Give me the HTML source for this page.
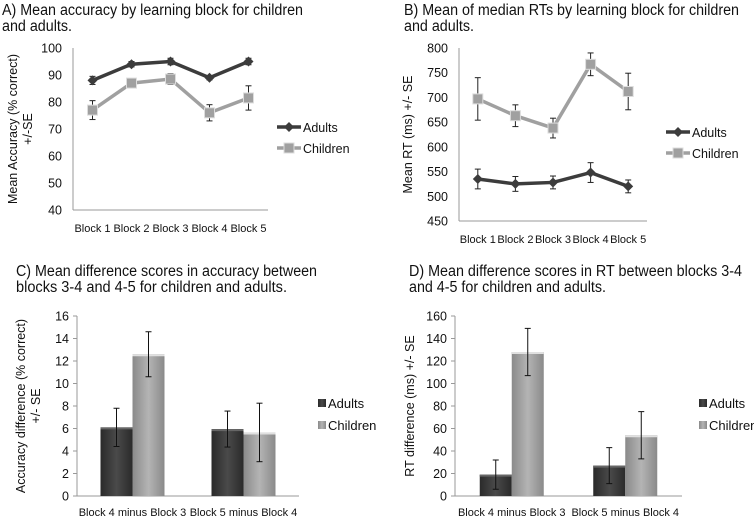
<!DOCTYPE html>
<html><head><meta charset="utf-8"><style>
html,body{margin:0;padding:0;background:#fff;}
svg{display:block;font-family:"Liberation Sans",Arial,sans-serif;}
</style></head><body>
<svg id="s" width="754" height="518" viewBox="0 0 754 518" xmlns="http://www.w3.org/2000/svg">
<defs>
<linearGradient id="gA" x1="0" x2="1"><stop offset="0" stop-color="#2a2a2a"/><stop offset="0.5" stop-color="#4a4a4a"/><stop offset="1" stop-color="#2a2a2a"/></linearGradient>
<linearGradient id="gC" x1="0" x2="1"><stop offset="0" stop-color="#8a8a8a"/><stop offset="0.5" stop-color="#b4b4b4"/><stop offset="1" stop-color="#8a8a8a"/></linearGradient>
</defs>
<g font-size="15.5" fill="#111">
<text x="2" y="15" textLength="301" lengthAdjust="spacingAndGlyphs">A) Mean accuracy by learning block for children</text><text x="2" y="31" textLength="70" lengthAdjust="spacingAndGlyphs">and adults.</text></g>
<g font-size="15.5" fill="#111">
<text x="404" y="15" textLength="335" lengthAdjust="spacingAndGlyphs">B) Mean of median RTs by learning block for children</text><text x="404" y="31" textLength="70" lengthAdjust="spacingAndGlyphs">and adults.</text></g>
<g font-size="15.5" fill="#111">
<text x="16" y="276" textLength="301" lengthAdjust="spacingAndGlyphs">C) Mean difference scores in accuracy between</text><text x="16" y="292" textLength="271" lengthAdjust="spacingAndGlyphs">blocks 3-4 and 4-5 for children and adults.</text></g>
<g font-size="15.5" fill="#111">
<text x="409" y="276" textLength="333" lengthAdjust="spacingAndGlyphs">D) Mean difference scores in RT between blocks 3-4</text><text x="409" y="292" textLength="197" lengthAdjust="spacingAndGlyphs">and 4-5 for children and adults.</text></g>
</svg>
<script>
const ns="http://www.w3.org/2000/svg";
const svg=document.getElementById('s');
function mk(tag,attrs,parent){const e=document.createElementNS(ns,tag);for(const k in attrs)e.setAttribute(k,attrs[k]);(parent||svg).appendChild(e);return e;}

// ---- Data ----
const blockLabels=["Block 1","Block 2","Block 3","Block 4","Block 5"];
const accAdults=[88,94,95,89,95];
const accAdultsErr=[1.5,1,1.2,0.8,1.2];
const accChildren=[77,87,88.5,76,81.5];
const accChildrenErr=[3.5,1.5,2,3,4.5];
const accTicks=[40,50,60,70,80,90,100];
const rtAdults=[535,525,528,548,520];
const rtAdultsErr=[20,15,13,20,13];
const rtChildren=[697,663,638,767,712];
const rtChildrenErr=[43,22,20,23,37];
const rtTicks=[450,500,550,600,650,700,750,800];
const diffLabels=["Block 4 minus Block 3","Block 5 minus Block 4"];
const accDiffAdults=[6.1,5.95];
const accDiffAdultsErr=[1.7,1.6];
const accDiffChildren=[12.6,5.65];
const accDiffChildrenErr=[2,2.6];
const accDiffTicks=[0,2,4,6,8,10,12,14,16];
const rtDiffAdults=[19,27];
const rtDiffAdultsErr=[13,16];
const rtDiffChildren=[128,54];
const rtDiffChildrenErr=[21,21];
const rtDiffTicks=[0,20,40,60,80,100,120,140,160];

function axes(g,x0,x1,yTop,yBot,ticks,yl,ytitle,tx,tickMarks){
  const mn=ticks[0],mx=ticks[ticks.length-1];
  const y=v=>yBot-(v-mn)/(mx-mn)*(yBot-yTop);
  const ax=mk('g',{},g);
  
  
  mk('line',{x1:x0,y1:yTop,x2:x0,y2:yBot,stroke:'#999','stroke-width':1},ax);
  mk('line',{x1:x0,y1:yBot,x2:x1,y2:yBot,stroke:'#999','stroke-width':1},ax);
  ticks.forEach(t=>{
    const tt=mk('text',{x:x0-(tickMarks?8:11),y:y(t)+4.5,'text-anchor':'end','font-size':12.5,fill:'#111'},ax);
    tt.textContent=t;
    
    
    if(tickMarks) mk('line',{x1:x0-4,y1:y(t),x2:x0,y2:y(t),stroke:'#999'},ax);
  });
  const ti=mk('text',{'text-anchor':'middle','font-size':12.5,fill:'#111',transform:`translate(${tx},${(yTop+yBot)/2}) rotate(-90)`},ax);
  
  
  yl.forEach((l,i)=>{const sp=mk('tspan',{x:0,dy:i?15:0},ti);sp.textContent=l;});
  return y;
}

function lineChart(name,x0,x1,yTop,yBot,ticks,ytitle,tx,A,Ae,C,Ce,legX,legY){
  const g=mk('g',{});
  
  
  const y=axes(g,x0,x1,yTop,yBot,ticks,ytitle,null,tx,false);
  const bw=(x1-x0)/blockLabels.length;
  const x=i=>x0+bw*(i+0.5);
  blockLabels.forEach((l,i)=>{
    const t=mk('text',{x:x(i),y:yBot+22,'text-anchor':'middle','font-size':11,fill:'#111'},g);
    t.textContent=l;
    
    
  });
  [[C,Ce,'#a0a0a0','children'],[A,Ae,'#3c3c3c','adults']].forEach(([v,e,col,nm])=>{
    const sg=mk('g',{},g);
    
    
    v.forEach((d,i)=>{
      mk('line',{x1:x(i),y1:y(d+e[i]),x2:x(i),y2:y(d-e[i]),stroke:'#222'},sg);
      mk('line',{x1:x(i)-3,y1:y(d+e[i]),x2:x(i)+3,y2:y(d+e[i]),stroke:'#222'},sg);
      mk('line',{x1:x(i)-3,y1:y(d-e[i]),x2:x(i)+3,y2:y(d-e[i]),stroke:'#222'},sg);
    });
    mk('polyline',{points:v.map((d,i)=>x(i)+','+y(d)).join(' '),fill:'none',stroke:col,'stroke-width':3.5},sg);
    v.forEach((d,i)=>{
      let m;
      if(nm==='adults') m=mk('polygon',{points:`${x(i)},${y(d)-5} ${x(i)+5},${y(d)} ${x(i)},${y(d)+5} ${x(i)-5},${y(d)}`,fill:col},sg);
      else m=mk('rect',{x:x(i)-5,y:y(d)-5,width:10,height:10,fill:col,stroke:'#ddd','stroke-width':1},sg);
      
      
    });
  });
  [['Adults','#3c3c3c',0,'a'],['Children','#a0a0a0',21,'c']].forEach(([lab,col,dy,k])=>{
    const lg=mk('g',{},g);
    
    
    const ly=legY+dy;
    mk('line',{x1:legX,y1:ly,x2:legX+24,y2:ly,stroke:col,'stroke-width':3.5},lg);
    if(k==='a') mk('polygon',{points:`${legX+12},${ly-5} ${legX+17},${ly} ${legX+12},${ly+5} ${legX+7},${ly}`,fill:col},lg);
    else mk('rect',{x:legX+7,y:ly-5,width:10,height:10,fill:col,stroke:'#ddd'},lg);
    const t=mk('text',{x:legX+26,y:ly+5,'font-size':12.5,fill:'#111'},lg);
    t.textContent=lab;
  });
}

function barChart(name,x0,x1,yTop,yBot,ticks,ytitle,tx,A,Ae,C,Ce,legX,legY){
  const g=mk('g',{});
  
  
  const y=axes(g,x0,x1,yTop,yBot,ticks,ytitle,null,tx,true);
  const bw=(x1-x0)/diffLabels.length;
  const cx=i=>x0+bw*(i+0.5);
  const barW=32;
  diffLabels.forEach((l,i)=>{
    const t=mk('text',{x:cx(i),y:yBot+20,'text-anchor':'middle','font-size':11,fill:'#111'},g);
    t.textContent=l;
    
    
  });
  [[A,Ae,'url(#gA)','adults',-1],[C,Ce,'url(#gC)','children',0]].forEach(([v,e,fill,nm,off])=>{
    v.forEach((d,i)=>{
      const bx=cx(i)+off*barW;
      const r=mk('rect',{x:bx,y:y(d),width:barW,height:yBot-y(d),fill:fill},g);
      
      
      mk('line',{x1:bx,y1:y(d)+1,x2:bx+barW,y2:y(d)+1,stroke:nm==='adults'?'#666':'#e0e0e0','stroke-width':2},g);
      const m=bx+barW/2;
      mk('line',{x1:m,y1:y(d+e[i]),x2:m,y2:y(d-e[i]),stroke:'#111'},g);
      mk('line',{x1:m-3,y1:y(d+e[i]),x2:m+3,y2:y(d+e[i]),stroke:'#111'},g);
      mk('line',{x1:m-3,y1:y(d-e[i]),x2:m+3,y2:y(d-e[i]),stroke:'#111'},g);
    });
  });
  [['Adults','url(#gA)',0],['Children','url(#gC)',22]].forEach(([lab,f,dy])=>{
    const lg=mk('g',{},g);
    
    
    mk('rect',{x:legX,y:legY+dy-4,width:8,height:8,fill:f},lg);
    const t=mk('text',{x:legX+10,y:legY+dy+5,'font-size':13,fill:'#111'},lg);
    t.textContent=lab;
  });
}

lineChart('chart-a-accuracy',73,268,48,210,accTicks,['Mean Accuracy (% correct)','+/-SE'],17,accAdults,accAdultsErr,accChildren,accChildrenErr,277,127);
lineChart('chart-b-rt',459,647,48,221,rtTicks,['Mean RT (ms) +/- SE'],412,rtAdults,rtAdultsErr,rtChildren,rtChildrenErr,666,132);
barChart('chart-c-accuracy-diff',77,299,316,496,accDiffTicks,['Accuracy difference (% correct)','+/- SE'],25,accDiffAdults,accDiffAdultsErr,accDiffChildren,accDiffChildrenErr,318,403);
barChart('chart-d-rt-diff',455,682,316,496,rtDiffTicks,['RT difference (ms) +/- SE'],414,rtDiffAdults,rtDiffAdultsErr,rtDiffChildren,rtDiffChildrenErr,699,403);
</script>
</body></html>
